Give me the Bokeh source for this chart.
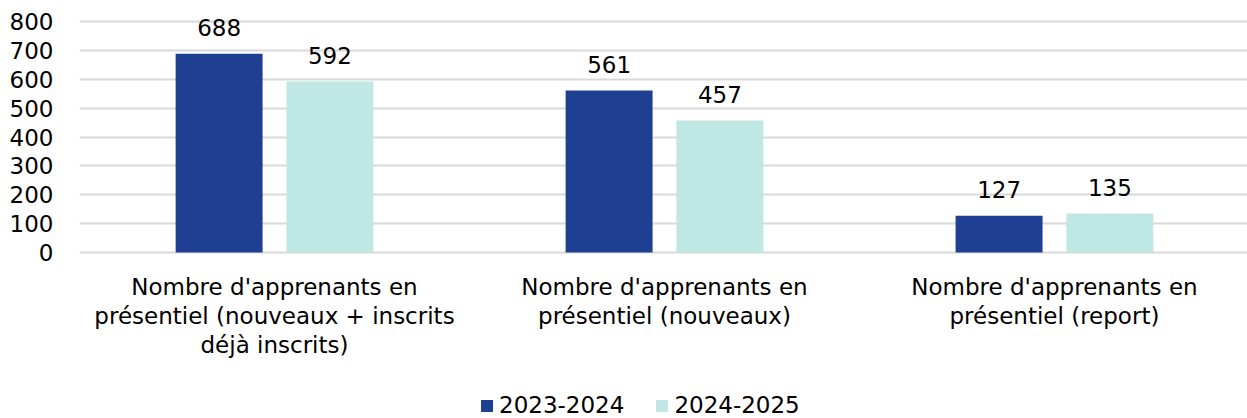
import numpy as np
from bokeh.plotting import figure
from bokeh.models import (ColumnDataSource, Range1d, FixedTicker, Legend, LegendItem, LabelSet)
from bokeh.core.properties import value
from bokeh.embed import file_html
from bokeh.resources import INLINE

categories = ["Nombre d'apprenants en\nprésentiel (nouveaux + inscrits\ndéjà inscrits)",
              "Nombre d'apprenants en\nprésentiel (nouveaux)",
              "Nombre d'apprenants en\nprésentiel (report)"]
series_names = ["2023-2024", "2024-2025"]
values_2023 = [688, 561, 127]
values_2024 = [592, 457, 135]
y_ticks = [0, 100, 200, 300, 400, 500, 600, 700, 800]

colors = ["#1F3F93", "#BFE8E5"]
FONT = "DejaVu Sans"

idx = np.arange(len(categories)) + 0.5
off = 0.142
bw = 0.223

# frame covers the full canvas height: 231 px for 0..800,
# 21 px of room above the top gridline, 166 px below the zero line
px_per_unit = 231 / 800
y_top = 800 + 21 / px_per_unit
y_bottom = -166 / px_per_unit

p = figure(width=1247, height=418, output_backend="svg", toolbar_location=None,
           x_range=Range1d(0, 2.995), y_range=Range1d(y_bottom, y_top),
           min_border_left=79, min_border_top=0, min_border_right=0,
           min_border_bottom=0)
p.outline_line_color = None
p.background_fill_color = "white"
p.border_fill_color = "white"

src1 = ColumnDataSource(dict(x=idx - off, top=values_2023, lab=[str(v) for v in values_2023]))
src2 = ColumnDataSource(dict(x=idx + off, top=values_2024, lab=[str(v) for v in values_2024]))
r1 = p.vbar(x="x", top="top", width=bw, source=src1, fill_color=colors[0], line_color=None)
r2 = p.vbar(x="x", top="top", width=bw, source=src2, fill_color=colors[1], line_color=None)

for s in (src1, src2):
    p.add_layout(LabelSet(x="x", y="top", text="lab", source=s, text_align="center",
                          text_baseline="alphabetic", y_offset=18, text_font=value(FONT),
                          text_font_size="23px", text_color="#000000"))

# category labels under the zero line
cat_src = ColumnDataSource(dict(x=idx, y=[0] * len(categories), text=categories))
p.text(x="x", y="y", text="text", source=cat_src, text_align="center",
       text_baseline="top", y_offset=21, text_font=value(FONT),
       text_font_size="23px", text_color="#000000", text_line_height=1.12)

p.xgrid.grid_line_color = None
p.ygrid.grid_line_color = "#D9D9D9"
p.ygrid.grid_line_width = 2
p.ygrid.ticker = FixedTicker(ticks=y_ticks)

p.xaxis.visible = False

p.yaxis.ticker = FixedTicker(ticks=y_ticks)
p.yaxis.axis_line_color = None
p.yaxis.major_tick_line_color = None
p.yaxis.minor_tick_line_color = None
p.yaxis.major_tick_out = 0
p.yaxis.major_tick_in = 0
p.yaxis.major_label_standoff = 26
p.yaxis.major_label_text_font = FONT
p.yaxis.major_label_text_font_size = "23px"
p.yaxis.major_label_text_color = "#000000"

legend = Legend(items=[LegendItem(label=series_names[0], renderers=[r1]),
                       LegendItem(label=series_names[1], renderers=[r2])],
                orientation="horizontal", location=(400, 0),
                label_text_font=FONT, label_text_font_size="23px",
                label_text_color="#000000", glyph_width=15, glyph_height=15,
                label_standoff=5, spacing=30, padding=0, margin=0,
                border_line_color=None, background_fill_alpha=0)
p.add_layout(legend, "center")

open("out.html", "w").write(file_html(p, INLINE))
